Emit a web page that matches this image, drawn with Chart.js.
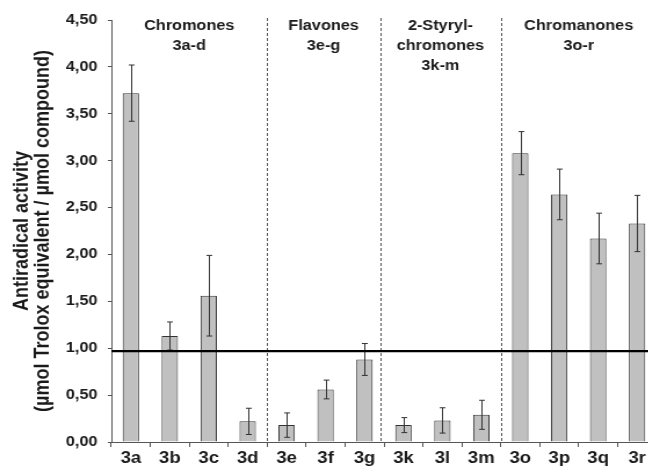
<!DOCTYPE html>
<html>
<head>
<meta charset="utf-8">
<script src="https://cdn.jsdelivr.net/npm/chart.js@4/dist/chart.umd.min.js"></script>
<style>
  html, body { margin: 0; padding: 0; background: #fff; overflow: hidden; }
  /* the figure is drawn narrow and widened horizontally */
  #wrap { position: absolute; left: 0; top: 0; width: 566px; height: 475px;
          transform: scaleX(1.16); transform-origin: 0 0; }
</style>
</head>
<body>
<div id="wrap"><canvas id="c"></canvas></div>
<script>
// Antiradical activity of the compound series
const compounds   = ['3a', '3b', '3c', '3d', '3e', '3f', '3g', '3k', '3l', '3m', '3o', '3p', '3q', '3r'];
const activity    = [3.72, 1.13, 1.56, 0.22, 0.18, 0.56, 0.88, 0.18, 0.23, 0.29, 3.08, 2.64, 2.17, 2.33];
const activitySD  = [0.30, 0.15, 0.43, 0.14, 0.13, 0.10, 0.17, 0.08, 0.135, 0.155, 0.23, 0.27, 0.27, 0.30];
const troloxLevel = 0.97;
const yTickValues = [0, 0.5, 1, 1.5, 2, 2.5, 3, 3.5, 4, 4.5];
const groupNames  = [['Chromones', '3a-d'], ['Flavones', '3e-g'], ['2-Styryl-', 'chromones', '3k-m'], ['Chromanones', '3o-r']];
const groupBounds = [-0.5, 3.5, 6.4, 9.5, 13.5];

const FONT = '"Liberation Sans", Arial, Helvetica, sans-serif';
const INK = '#1a1a1a';

const overlay = {
  id: 'overlay',
  beforeDatasetsDraw(chart) {
    const { ctx, chartArea, scales: { x } } = chart;
    ctx.save();
    ctx.strokeStyle = '#555';
    ctx.lineWidth = 1;
    ctx.setLineDash([3, 2]);
    for (let g = 1; g < groupBounds.length - 1; g++) {
      const px = Math.round(x.getPixelForValue(groupBounds[g])) + 0.5;
      ctx.beginPath();
      ctx.moveTo(px, chartArea.top - 2);
      ctx.lineTo(px, chartArea.bottom);
      ctx.stroke();
    }
    ctx.restore();
  },
  afterDatasetsDraw(chart) {
    const { ctx, chartArea, scales: { x, y } } = chart;
    const meta = chart.getDatasetMeta(0);
    ctx.save();
    // error bars
    ctx.strokeStyle = '#333';
    ctx.lineWidth = 1;
    meta.data.forEach((bar, i) => {
      const cx = Math.round(bar.x) + 0.5;
      const yHi = y.getPixelForValue(activity[i] + activitySD[i]);
      const yLo = y.getPixelForValue(activity[i] - activitySD[i]);
      ctx.beginPath();
      ctx.moveTo(cx, yHi); ctx.lineTo(cx, yLo);
      ctx.moveTo(cx - 2.5, yHi); ctx.lineTo(cx + 2.5, yHi);
      ctx.moveTo(cx - 2.5, yLo); ctx.lineTo(cx + 2.5, yLo);
      ctx.stroke();
    });
    // Trolox reference level
    const ly = y.getPixelForValue(troloxLevel);
    ctx.strokeStyle = '#000';
    ctx.lineWidth = 2.2;
    ctx.beginPath();
    ctx.moveTo(chartArea.left, ly);
    ctx.lineTo(chartArea.right, ly);
    ctx.stroke();
    // group headings
    ctx.fillStyle = INK;
    ctx.font = 'bold 14px ' + FONT;
    ctx.textAlign = 'center';
    ctx.textBaseline = 'middle';
    groupNames.forEach((lines, g) => {
      const cx = (x.getPixelForValue(groupBounds[g]) + x.getPixelForValue(groupBounds[g + 1])) / 2;
      lines.forEach((t, k) => ctx.fillText(t, cx, 26 + k * 20));
    });
    ctx.restore();
  }
};

new Chart(document.getElementById('c'), {
  type: 'bar',
  data: {
    labels: compounds,
    datasets: [{
      data: activity,
      backgroundColor: '#c0c0c0',
      borderColor: '#333',
      borderWidth: 1,
      categoryPercentage: 1,
      barPercentage: 0.42
    }]
  },
  options: {
    responsive: true,
    maintainAspectRatio: false,
    devicePixelRatio: 1,
    animation: false,
    layout: { padding: { top: 20, left: 0, right: 0, bottom: 0 } },
    plugins: { legend: { display: false }, tooltip: { enabled: false } },
    scales: {
      x: {
        grid: { offset: true, drawOnChartArea: false, drawTicks: true, tickLength: 5, color: '#555' },
        border: { color: '#555', width: 1 },
        ticks: { color: INK, padding: 2, font: { family: FONT, size: 16, weight: 'bold' } },
        afterFit(s) { s.height = 33; }
      },
      y: {
        min: 0,
        max: 4.5,
        afterBuildTicks(s) { s.ticks = yTickValues.map(v => ({ value: v })); },
        grid: { drawOnChartArea: false, drawTicks: true, tickLength: 3, color: '#555' },
        border: { color: '#555', width: 1 },
        ticks: {
          color: INK, padding: 9,
          font: { family: FONT, size: 14, weight: 'bold' },
          callback: v => v.toFixed(2).replace('.', ',')
        },
        title: {
          display: true,
          text: ['Antiradical activity', '(\u00b5mol Trolox equivalent / \u00b5mol compound)'],
          color: INK,
          padding: { top: 10, bottom: 0 },
          font: { family: FONT, size: 18, weight: 'bold', lineHeight: 1.0 }
        },
        afterFit(s) { s.width = 96; }
      }
    }
  },
  plugins: [overlay]
});
</script>
</body>
</html>
